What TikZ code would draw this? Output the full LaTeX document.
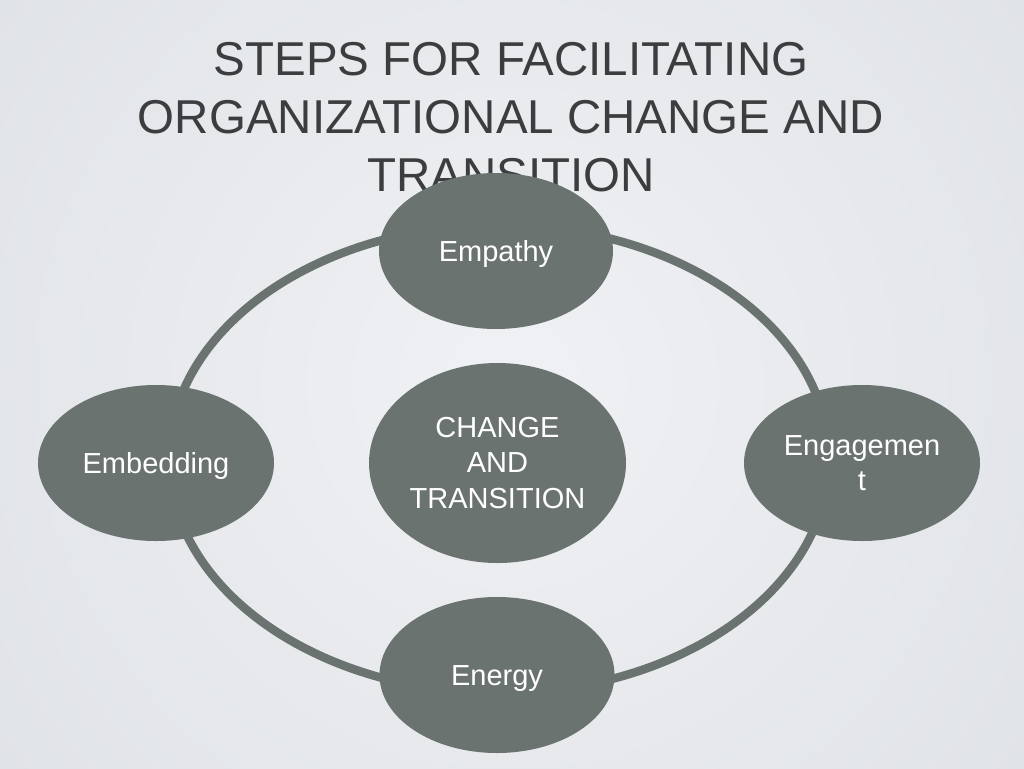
\documentclass[tikz,border=0pt]{standalone}
\usepackage{fontspec}
\setmainfont{Liberation Sans}
\usetikzlibrary{shapes.geometric}
\definecolor{nodegray}{HTML}{6B7370}
\definecolor{titlegray}{HTML}{3C3D3F}
\definecolor{bgin}{HTML}{F0F1F4}
\definecolor{bgout}{HTML}{D0D5DB}
\tikzset{
  bubble/.style={ellipse, fill=nodegray, draw=none, inner sep=0pt, text=white, align=center,
    font=\fontsize{29}{35.5}\selectfont},
  oneline/.style={text height=21pt, text depth=0pt},
  ring/.style={draw=nodegray, line width=8.5pt},
  titleline/.style={anchor=base, text=titlegray, inner sep=0pt, font=\fontsize{47.5}{58}\selectfont}
}
\begin{document}
\begin{tikzpicture}[x=1pt,y=-1pt]
\useasboundingbox (0,0) rectangle (1024,768);
\shade[inner color=bgin, outer color=bgout] (-768,-896) rectangle (1792,1664);
% title
\node[titleline] (t1) at (511,75) {STEPS FOR FACILITATING};
\node[titleline] (t2) at (511,133) {ORGANIZATIONAL CHANGE AND};
\node[titleline] (t3) at (511,191) {TRANSITION};
% ring
\coordinate (ringc) at (499,459);
\draw[ring] (ringc) ellipse [x radius=330, y radius=234];
% nodes
\node[bubble, oneline, minimum width=234pt, minimum height=156pt] (empathy) at (496,251) {Empathy};
\node[bubble, oneline, minimum width=236pt, minimum height=156pt] (embedding) at (156,463) {Embedding};
\node[bubble, minimum width=236pt, minimum height=156pt] (engagement) at (862,463) {Engagemen\\t};
\node[bubble, oneline, minimum width=235pt, minimum height=156pt] (energy) at (497,675) {Energy};
\node[bubble, minimum width=257pt, minimum height=200pt] (change) at (497.5,463) {CHANGE\\AND\\TRANSITION};
\end{tikzpicture}
\end{document}
